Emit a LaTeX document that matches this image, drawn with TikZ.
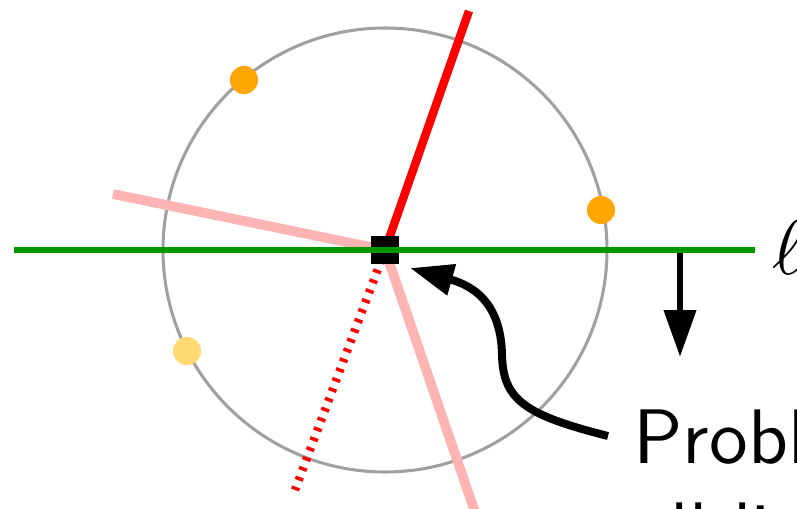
\documentclass[tikz,border=0pt]{standalone}
\usepackage{tikz}
\usetikzlibrary{arrows.meta}
\definecolor{ptorange}{RGB}{255,165,0}
\definecolor{ptyellow}{RGB}{255,218,115}
\definecolor{lgreen}{RGB}{0,150,0}
\definecolor{lpink}{RGB}{255,180,180}
\definecolor{lgray}{RGB}{160,160,160}
\tikzset{
  ring/.style={draw=lgray,line width=2.6pt},
  ptdot/.style={circle,inner sep=0pt,minimum size=24pt},
  sqr/.style={rectangle,fill=black,inner sep=0pt,minimum size=24.5pt},
  gline/.style={draw=lgreen,line width=5.7pt},
  pline/.style={draw=lpink,line width=8.3pt},
  rline/.style={draw=red,line width=7.2pt},
  rdash/.style={draw=red,line width=7.2pt,dash pattern=on 3pt off 6pt},
  bigarrow/.style={-{Triangle[length=40pt,width=26.5pt]},line width=5.7pt},
  curarrow/.style={-{Triangle[length=37pt,width=26pt]},line width=6.8pt},
  lbl/.style={anchor=base west,inner sep=0pt,scale=6.6,font=\fontsize{10}{12}\selectfont\sffamily}
}
\begin{document}
\begin{tikzpicture}[x=0.03cm,y=-0.03cm]
\useasboundingbox (0,0) rectangle (797,508);
\clip (0,0) rectangle (797,508);
% circle and points
\draw[ring] (385,250) circle[radius=222];
\node[ptdot,fill=ptorange] (p1) at (244,80) {};
\node[ptdot,fill=ptorange] (p2) at (601,210) {};
\node[ptdot,fill=ptyellow] (p3) at (187,351) {};
% lines through the point
\coordinate (c) at (385,250);
\coordinate (pa) at (113,194);
\coordinate (pb) at (476,515);
\coordinate (ra) at (469,11);
\coordinate (rb) at (295,490);
\draw[pline] (pa) -- (c);
\draw[pline] (c) -- (pb);
\draw[rline] (c) -- (ra);
\draw[rdash] (c) -- (rb);
\node[sqr] (sq) at (c) {};
% the line l
\coordinate (la) at (14,250);
\coordinate (lb) at (755,250);
\draw[gline] (la) -- (lb);
\node[lbl] (ell) at (771,274) {$\ell$};
% sweep direction
\coordinate (s0) at (680,253);
\coordinate (s1) at (680,357);
\draw[bigarrow] (s0) -- (s1);
% label
\node[lbl] (prob) at (632,463) {Problem};
\node[lbl] (prob2) at (632,556) {all lie};
\coordinate (tail) at (608,436);
\coordinate (tip) at (410,268);
\draw[curarrow] (tail) .. controls (525,415) and (503,400) .. (502,355)
  .. controls (501,300) and (470,285) .. (tip);
\end{tikzpicture}
\end{document}
